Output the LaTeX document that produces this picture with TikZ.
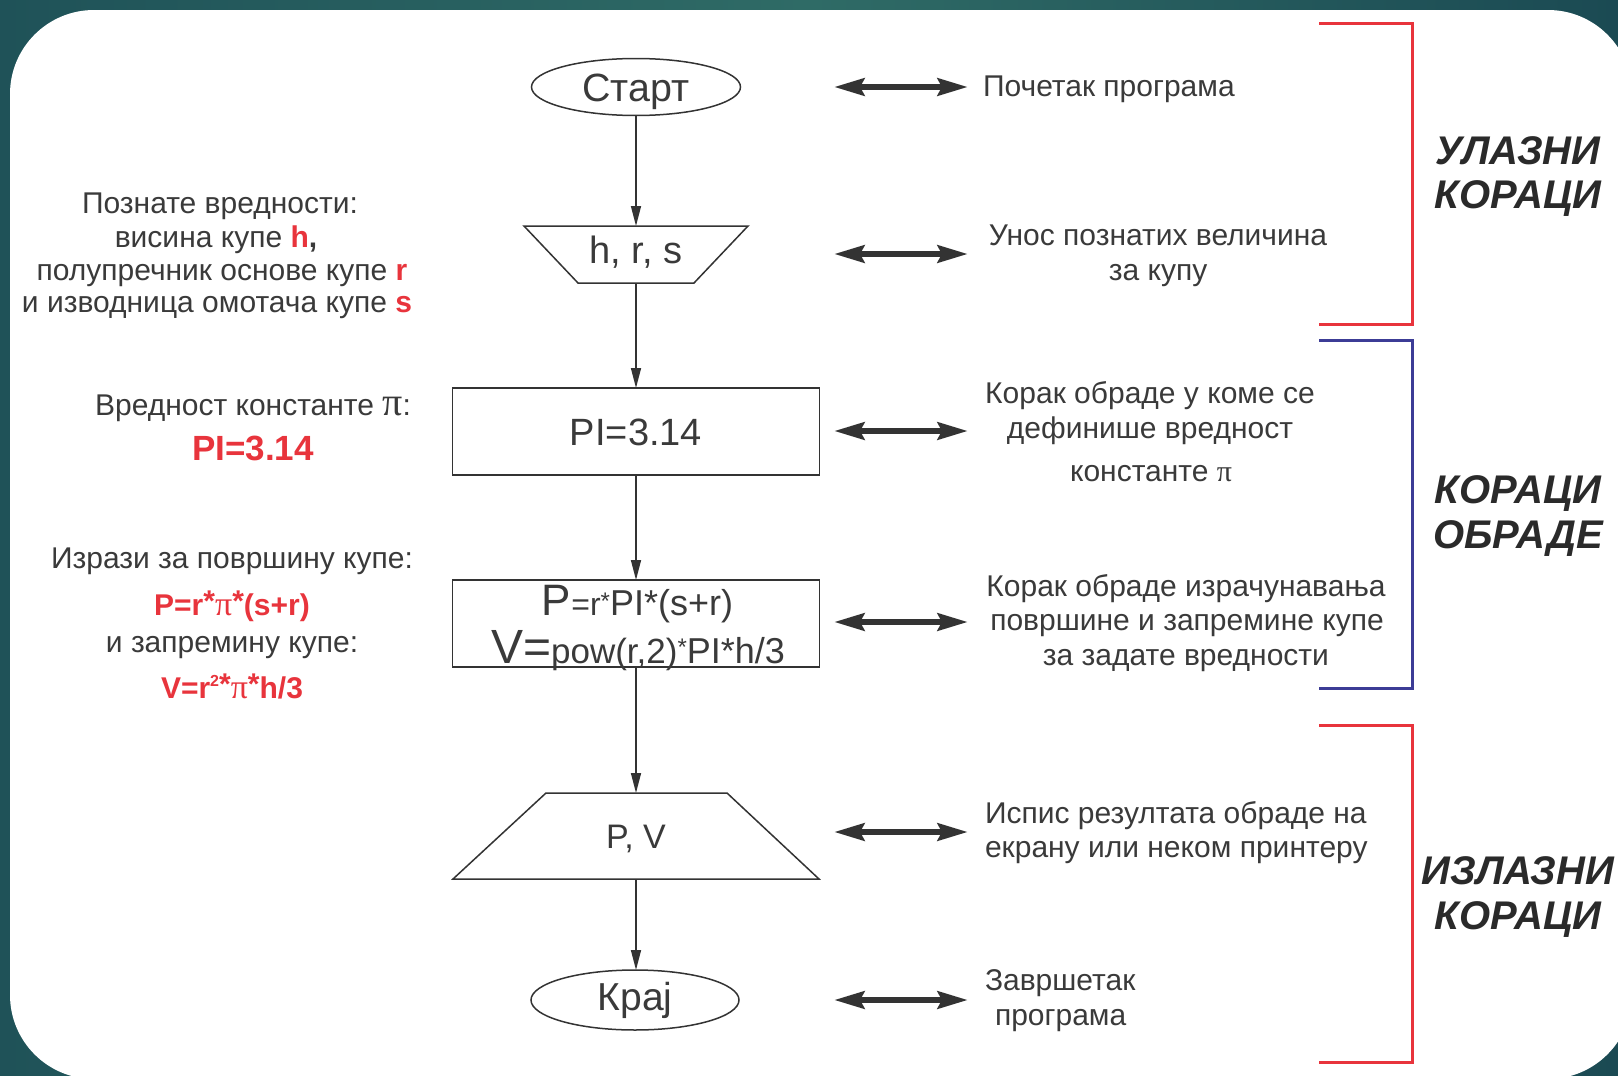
\documentclass[tikz,border=0pt]{standalone}
\usepackage{fontspec}
\setmainfont{Liberation Sans}
\newfontfamily\pifont{Liberation Serif}
\usetikzlibrary{arrows.meta,shapes.geometric}
\definecolor{txt}{HTML}{3A3A3A}
\definecolor{lnc}{HTML}{333333}
\definecolor{redc}{HTML}{E8343C}
\definecolor{bluec}{HTML}{3C3C96}
\definecolor{grpc}{HTML}{2A2A2A}
\definecolor{bgL}{HTML}{1F5258}
\definecolor{bgM}{HTML}{2F6B66}
\definecolor{bgR}{HTML}{1B4A53}
\newcommand\fsz[2]{\fontsize{#1pt}{#2pt}\selectfont}
\newcommand\myast{\raisebox{2pt}{*}}
\begin{document}
\begin{tikzpicture}[x=0.5pt,y=-0.5pt,
  every node/.style={inner sep=0pt, outer sep=0pt},
  txtn/.style={text=txt, font=\fsz{15}{17}, anchor=base},
  txtw/.style={text=txt, font=\fsz{15}{17}, anchor=base west},
  redn/.style={text=redc, font=\bfseries\fsz{15}{17}, anchor=base},
  shp/.style={draw=lnc, line width=0.75pt},
  flow/.style={draw=lnc, line width=0.75pt, -{Triangle[length=10pt,width=5pt]}},
  dbl/.style={draw=lnc, line width=3.2pt, {Stealth[length=15pt,width=8.5pt,inset=2pt]}-{Stealth[length=15pt,width=8.5pt,inset=2pt]}},
  brk/.style={line width=1.5pt},
  grp/.style={text=grpc, font=\bfseries\itshape\fsz{20}{22}, anchor=base}
]
\useasboundingbox (0,0) rectangle (1618,1076);
\clip (0,0) rectangle (1618,1076);
% background
\shade[left color=bgL, right color=bgR, middle color=bgM] (0,0) rectangle (1618,1076);
\fill[white, rounded corners=42pt] (10,10) rectangle (1632,1079);

% flowchart shapes
\node[ellipse, shp, minimum width=104.5pt, minimum height=28.5pt, text=txt, font=\fsz{19.7}{20}, text height=14pt, text depth=0pt] (start) at (636,87) {Старт};

\node[minimum width=112pt, minimum height=28.5pt, text=txt, font=\fsz{19}{20}, text height=13.6pt, text depth=5.1pt] (hrs) at (636,254.5) {h, r, s};
\draw[shp] (hrs.north west) -- (hrs.north east) -- ([xshift=-27pt]hrs.south east) -- ([xshift=27pt]hrs.south west) -- cycle;

\node[shp, minimum width=183.5pt, minimum height=43.5pt, text=txt, font=\fsz{19}{20}, text height=13.6pt, text depth=0pt] (pi) at (636,431.5) {PI=3.14};

\node[shp, minimum width=183.5pt, minimum height=43.5pt] (pv) at (636,623.5) {};
\node[anchor=base, text=txt] (pv1) at (637.5,615) {{\fsz{22}{22}P}{\fsz{16}{16}=r}{\fsz{12}{12}\raisebox{3pt}{*}}{\fsz{18}{18}PI*(s+r)}};
\node[anchor=base, text=txt] (pv2) at (638,663) {{\fsz{24}{24}V=}{\fsz{17.5}{17.5}pow(r,2)}{\fsz{12}{12}\raisebox{4pt}{*}}{\fsz{18}{18}PI*h/3}};

\node[minimum width=183pt, minimum height=43pt, text=txt, font=\fsz{17}{17}, text height=12.2pt, text depth=0pt] (out) at (636,836) {P, V};
\draw[shp] ([xshift=46.5pt]out.north west) -- ([xshift=-46pt]out.north east) -- (out.south east) -- (out.south west) -- cycle;

\node[ellipse, shp, minimum width=104pt, minimum height=30pt, text=txt, font=\fsz{19.5}{20}, text height=14pt, text depth=4pt] (kraj) at (635,1000) {Крај};

% flow arrows
\draw[flow] (start.south) -- (hrs.north);
\draw[flow] (hrs.south) -- (pi.north);
\draw[flow] (pi.south) -- (pv.north);
\draw[flow] (pv.south) -- (out.north);
\draw[flow] (out.south) -- ([xshift=0.5pt]kraj.north);

% double arrows
\foreach \n/\yy in {1/87,2/254,3/431,4/622,5/832,6/1000}{
  \coordinate (da\n l) at (834,\yy);
  \coordinate (da\n r) at (968,\yy);
  \draw[dbl] (da\n l) -- (da\n r);
}

% right descriptions
\node[txtw] (d1) at (983,96) {Почетак програма};
\node[txtn] (d2a) at (1158,245) {Унос познатих величина};
\node[txtn] (d2b) at (1158,280) {за купу};
\node[txtn] (d3a) at (1150,403) {Корак обраде у коме се};
\node[txtn] (d3b) at (1150,438) {дефинише вредност};
\node[txtn] (d3c) at (1151,481) {константе {\pifont π}};
\node[txtn] (d4a) at (1186,596) {Корак обраде израчунавања};
\node[txtn] (d4b) at (1187,630) {површине и запремине купе};
\node[txtn] (d4c) at (1186,665) {за задате вредности};
\node[txtw] (d5a) at (985,823) {Испис резултата обраде на};
\node[txtw] (d5b) at (985,857) {екрану или неком принтеру};
\node[txtw] (d6a) at (985,990) {Завршетак};
\node[txtw] (d6b) at (995,1025) {програма};

% left notes
\node[txtn] (l1a) at (220,213) {Познате вредности:};
\node[txtn] (l1b) at (216,247) {висина купе {\bfseries\color{redc}h}{\bfseries,}};
\node[txtn] (l1c) at (222,280) {полупречник основе купе {\bfseries\color{redc}r}};
\node[txtn] (l1d) at (217,312) {и изводница омотача купе {\bfseries\color{redc}s}};
\node[txtn] (l2a) at (253,415) {Вредност константе {\pifont\fsz{20}{20}π}:};
\node[redn, font=\bfseries\fsz{17.5}{18}] (l2b) at (253,460) {PI=3.14};
\node[txtn] (l3a) at (232,568) {Изрази за површину купе:};
\node[redn] (l3b) at (232,615) {P=r\myast{\pifont\mdseries\fsz{17}{17}π}\myast(s+r)};
\node[txtn] (l3c) at (232,652) {и запремину купе:};
\node[redn] (l3d) at (232,698) {V=r\raisebox{6pt}{\fsz{8}{8}2}\myast{\pifont\mdseries\fsz{17}{17}π}\myast h/3};

% brackets
\draw[brk, draw=redc] (1319,23) -- (1412,23) -- (1412,324) -- (1319,324);
\draw[brk, draw=bluec] (1319,340) -- (1412,340) -- (1412,688) -- (1319,688);
\draw[brk, draw=redc] (1319,725) -- (1412,725) -- (1412,1062) -- (1319,1062);

% group labels
\node[grp] (g1a) at (1518,164) {УЛАЗНИ};
\node[grp] (g1b) at (1518,208) {КОРАЦИ};
\node[grp] (g2a) at (1518,503) {КОРАЦИ};
\node[grp] (g2b) at (1518,548) {ОБРАДЕ};
\node[grp] (g3a) at (1518,884) {ИЗЛАЗНИ};
\node[grp] (g3b) at (1518,929) {КОРАЦИ};
\end{tikzpicture}
\end{document}
